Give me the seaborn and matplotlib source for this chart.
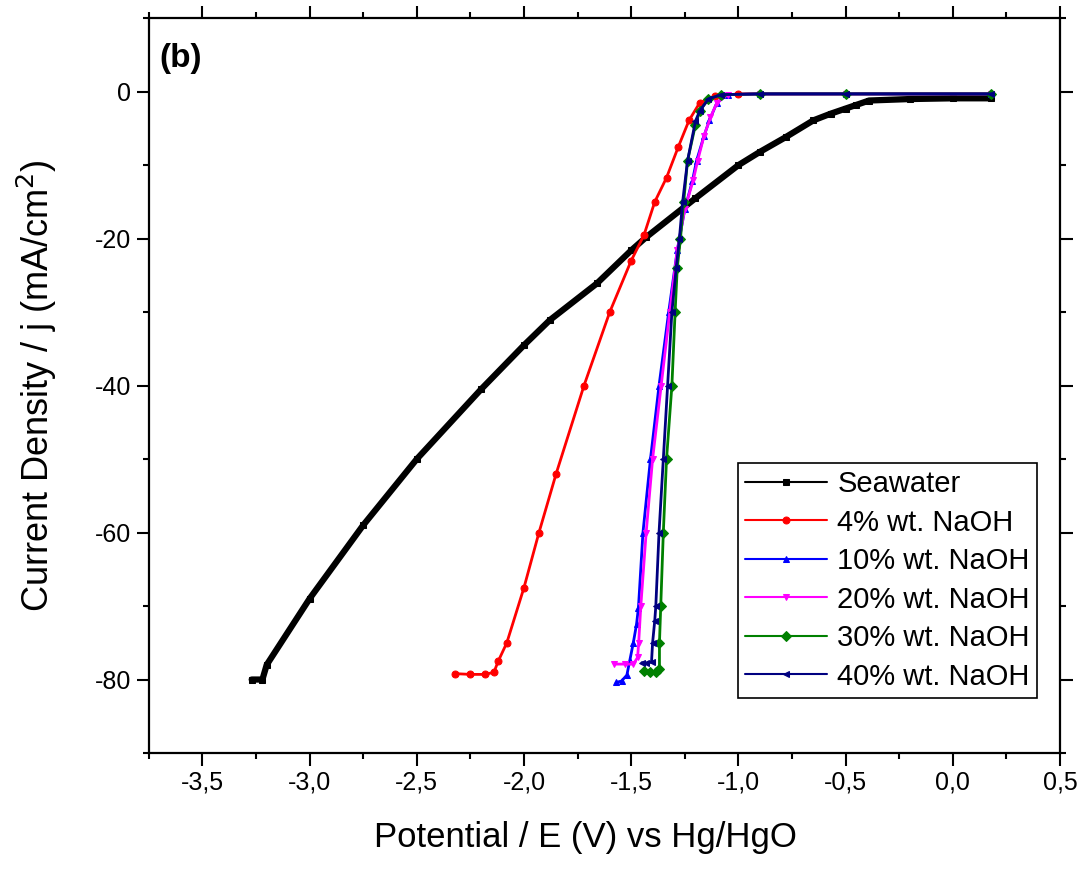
import numpy as np
import pandas as pd
import matplotlib
matplotlib.use('Agg')
import matplotlib.pyplot as plt
from matplotlib.ticker import MultipleLocator, FuncFormatter
import seaborn as sns

# 读数（从原图估计）
sea_x = [0.18, 0.0, -0.2, -0.39, -0.45, -0.5, -0.57, -0.65, -0.78, -0.9, -1.0, -1.2, -1.43, -1.5,
         -1.66, -1.88, -2.0, -2.2, -2.5, -2.75, -3.0, -3.2, -3.22, -3.27]
sea_y = [-0.9, -0.9, -1.0, -1.2, -1.8, -2.3, -3.0, -3.9, -6.2, -8.2, -10.0, -14.5, -19.8, -21.6,
         -26.1, -31.1, -34.5, -40.5, -50.0, -59.0, -69.0, -78.0, -80.0, -80.0]

naoh4_x = [-2.32, -2.25, -2.18, -2.14, -2.12, -2.08, -2.0, -1.93, -1.85, -1.72, -1.6, -1.5, -1.44,
           -1.39, -1.335, -1.28, -1.23, -1.18, -1.11, -1.0, -0.5, 0.18]
naoh4_y = [-79.2, -79.3, -79.3, -79.0, -77.5, -75.0, -67.5, -60.0, -52.0, -40.0, -30.0, -23.0, -19.5,
           -15.0, -11.7, -7.5, -3.9, -1.5, -0.6, -0.3, -0.3, -0.3]

naoh10_x = [-1.57, -1.545, -1.52, -1.507, -1.49, -1.475, -1.466, -1.445, -1.41, -1.37, -1.325, -1.285,
            -1.25, -1.214, -1.195, -1.16, -1.135, -1.10, -1.05, -0.9, -0.5, 0.18]
naoh10_y = [-80.4, -80.2, -79.4, -77.5, -75.0, -72.5, -70.2, -60.0, -50.0, -40.0, -30.0, -21.6,
            -16.0, -12.1, -9.4, -6.0, -3.9, -1.5, -0.4, -0.3, -0.3, -0.3]

naoh20_x = [-1.578, -1.53, -1.49, -1.47, -1.465, -1.455, -1.43, -1.40, -1.36, -1.32, -1.285, -1.25,
            -1.21, -1.19, -1.16, -1.13, -1.10, -1.05, -0.9, -0.5, 0.18]
naoh20_y = [-77.9, -77.9, -77.9, -77.0, -75.0, -70.0, -60.0, -50.0, -40.0, -30.0, -21.6, -16.0,
            -12.0, -9.4, -6.0, -3.5, -1.5, -0.4, -0.3, -0.3, -0.3]

naoh30_x = [-1.438, -1.41, -1.385, -1.368, -1.368, -1.362, -1.35, -1.335, -1.31, -1.295, -1.285, -1.27,
            -1.255, -1.237, -1.2, -1.18, -1.14, -1.08, -0.9, -0.5, 0.18]
naoh30_y = [-78.9, -79.0, -79.0, -78.5, -75.0, -70.0, -60.0, -50.0, -40.0, -30.0, -24.0, -20.0,
            -15.0, -9.4, -4.5, -2.6, -1.0, -0.4, -0.3, -0.3, -0.3]

naoh40_x = [-1.45, -1.43, -1.405, -1.40, -1.39, -1.385, -1.37, -1.35, -1.33, -1.31, -1.29, -1.275,
            -1.26, -1.237, -1.2, -1.18, -1.14, -1.08, -0.9, -0.5, 0.18]
naoh40_y = [-77.7, -77.8, -77.6, -75.0, -72.0, -70.0, -60.0, -50.0, -40.0, -30.0, -24.0, -20.0,
            -15.0, -9.4, -4.0, -2.6, -1.0, -0.4, -0.3, -0.3, -0.3]

labels = ['Seawater', '4% wt. NaOH', '10% wt. NaOH', '20% wt. NaOH', '30% wt. NaOH', '40% wt. NaOH']
colors = ['black', '#ff0000', '#0000ff', '#ff00ff', '#008000', '#000080']
markers = ['s', 'o', '^', 'v', 'D', '<']
xs = [sea_x, naoh4_x, naoh10_x, naoh20_x, naoh30_x, naoh40_x]
ys = [sea_y, naoh4_y, naoh10_y, naoh20_y, naoh30_y, naoh40_y]

sns.set_style('ticks')
plt.rcParams['font.family'] = ['Liberation Sans', 'DejaVu Sans']
plt.rcParams['text.color'] = 'black'
plt.rcParams['axes.labelcolor'] = 'black'
plt.rcParams['xtick.color'] = 'black'
plt.rcParams['ytick.color'] = 'black'

fig = plt.figure(figsize=(10.86, 8.8), dpi=100)
ax = fig.add_axes([0.137, 0.1443, 0.839, 0.835])

for x, y, lab, c, m in zip(xs, ys, labels, colors, markers):
    df = pd.DataFrame({'E': x, 'j': y})
    lw = 4.5 if lab == 'Seawater' else 2
    sns.lineplot(data=df, x='E', y='j', sort=False, estimator=None, ax=ax, color=c,
                 marker=m, markersize=5, markeredgecolor=c, linewidth=lw, label=lab)
# 画线

ax.set_xlim(-3.75, 0.5)
ax.set_ylim(-90, 10)
ax.xaxis.set_major_locator(MultipleLocator(0.5))
ax.xaxis.set_minor_locator(MultipleLocator(0.25))
ax.yaxis.set_major_locator(MultipleLocator(20))
ax.yaxis.set_minor_locator(MultipleLocator(10))
ax.xaxis.set_major_formatter(FuncFormatter(lambda v, p: '{:.1f}'.format(v).replace('.', ',')))
ax.yaxis.set_major_formatter(FuncFormatter(lambda v, p: '{:.0f}'.format(v)))
ax.tick_params(which='both', direction='out', top=True, right=True, width=1.5, labelsize=18)
ax.tick_params(which='major', length=9)
ax.tick_params(which='minor', length=4.5)
for s in ax.spines.values():
    s.set_linewidth(1.6)
    s.set_color('black')
# 坐标轴

ax.set_xlabel('Potential / E (V) vs Hg/HgO', fontsize=25)
ax.set_ylabel('Current Density / j (mA/cm$^2$)', fontsize=26)
ax.xaxis.set_label_coords(0.479, -0.093)
ax.yaxis.set_label_coords(-0.098, 0.5)
ax.text(0.012, 0.945, '(b)', transform=ax.transAxes, fontsize=24, fontweight='bold', va='center')

leg = ax.legend(loc='lower right', bbox_to_anchor=(0.975, 0.075), borderaxespad=0, fontsize=21,
                fancybox=False, edgecolor='black', framealpha=1, handlelength=2.8,
                handletextpad=0.35, labelspacing=0.36, borderpad=0.25)
leg.get_frame().set_linewidth(1.2)
for ln in leg.get_lines():
    ln.set_linewidth(1.5)
# 图例

fig.savefig('out.png', dpi=100)
